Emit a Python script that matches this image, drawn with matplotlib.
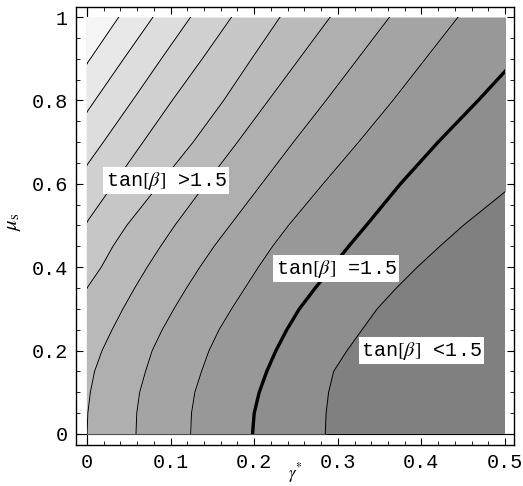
"""
Contour plot of tan(beta) in the (gamma*, mu_s) plane, grey shaded bands
with the tan(beta)=1.5 contour drawn heavy.
"""

import matplotlib.pyplot as plt
from matplotlib.patches import Rectangle

# ─────────────────────────────────────────
# DATA (contour lines: x of each line at Y_LEVELS)
# ─────────────────────────────────────────
Y_LEVELS = [0.0, 0.05, 0.1, 0.15, 0.2, 0.25, 0.3, 0.35, 0.4, 0.45, 0.5, 0.6, 0.7, 0.8, 0.9, 1.0]

LINE_1  = [-0.33, -0.31, -0.29, -0.27, -0.25, -0.23, -0.21, -0.19, -0.17, -0.152, -0.135, -0.10, -0.066, -0.031, 0.004, 0.038]
LINE_2  = [-0.28, -0.26, -0.24, -0.22, -0.20, -0.185, -0.165, -0.148, -0.13, -0.112, -0.095, -0.06, -0.025, 0.0095, 0.044, 0.079]
LINE_3  = [-0.245, -0.225, -0.205, -0.185, -0.165, -0.145, -0.125, -0.106, -0.088, -0.07, -0.052, -0.016, 0.0195, 0.0545, 0.089, 0.124]
LINE_4  = [-0.20, -0.178, -0.158, -0.138, -0.118, -0.098, -0.078, -0.059, -0.04, -0.021, -0.003, 0.032, 0.067, 0.102, 0.138, 0.173]
LINE_5  = [-0.12, -0.105, -0.088, -0.07, -0.053, -0.035, -0.017, 0.0, 0.017, 0.031, 0.0475, 0.087, 0.127, 0.1635, 0.197, 0.231]
LINE_6  = [0.0, 0.001, 0.004, 0.009, 0.018, 0.030, 0.043, 0.057, 0.072, 0.088, 0.105, 0.142, 0.180, 0.217, 0.254, 0.291]
LINE_7  = [0.0586, 0.0595, 0.063, 0.070, 0.078, 0.090, 0.104, 0.119, 0.135, 0.152, 0.171, 0.209, 0.247, 0.286, 0.324, 0.362]
LINE_8  = [0.124, 0.125, 0.129, 0.137, 0.146, 0.158, 0.173, 0.189, 0.205, 0.222, 0.241, 0.2825, 0.325, 0.366, 0.405, 0.444]
LINE_15 = [0.198, 0.200, 0.206, 0.215, 0.226, 0.239, 0.254, 0.273, 0.293, 0.313, 0.334, 0.375, 0.420, 0.468, 0.514, 0.56]
LINE_10 = [0.285, 0.286, 0.289, 0.295, 0.311, 0.329, 0.347, 0.370, 0.395, 0.422, 0.450, 0.512, 0.575, 0.64, 0.70, 0.76]

CONTOURS = [LINE_1, LINE_2, LINE_3, LINE_4, LINE_5, LINE_6, LINE_7, LINE_8, LINE_15, LINE_10]
HEAVY = 8  # index of the tan(beta)=1.5 line

X_TICKS = [0, 0.1, 0.2, 0.3, 0.4, 0.5]
X_TICKLABELS = ['0', '0.1', '0.2', '0.3', '0.4', '0.5']
Y_TICKS = [0, 0.2, 0.4, 0.6, 0.8, 1.0]
Y_TICKLABELS = ['0', '0.2', '0.4', '0.6', '0.8', '1']

LABELS = [r'tan$[\beta]$ >1.5', r'tan$[\beta]$ =1.5', r'tan$[\beta]$ <1.5']
LABEL_X = [0.0945, 0.298, 0.40]
LABEL_Y = [0.607, 0.396, 0.200]

# ── styling
GREYS = ['#f5f5f5', '#e8e8e8', '#dddddd', '#d0d0d0', '#c6c6c6', '#bababa',
         '#afafaf', '#a4a4a4', '#989898', '#8e8e8e', '#808080']
MONO = 'Liberation Mono'
plt.rcParams['mathtext.fontset'] = 'stix'

# ─────────────────────────────────────────
# PLOT
# ─────────────────────────────────────────
fig = plt.figure(figsize=(5.23, 4.86), dpi=100)
ax = fig.add_axes([0.1453, 0.0844, 0.8375, 0.9012])

ax.set_xlim(-0.0132, 0.5108)
ax.set_ylim(-0.0264, 1.024)

# axes through the origin, only visible in the white margin
ax.axhline(0, color='black', lw=0.8, zorder=0)
ax.axvline(0, color='black', lw=0.8, zorder=0)

clip = Rectangle((0, 0), 0.5, 1.0, transform=ax.transData)

bounds = [[-1.0] * len(Y_LEVELS)] + CONTOURS + [[2.0] * len(Y_LEVELS)]
for k in range(len(bounds) - 1):
    band = ax.fill_betweenx(Y_LEVELS, bounds[k], bounds[k + 1],
                            color=GREYS[k], lw=0, zorder=1)
    band.set_clip_path(clip)

for k, xs in enumerate(CONTOURS):
    line, = ax.plot(xs, Y_LEVELS, color='black',
                    lw=2.4 if k == HEAVY else 0.7, zorder=2)
    line.set_clip_path(clip)

for txt, lx, ly in zip(LABELS, LABEL_X, LABEL_Y):
    ax.text(lx, ly, txt, fontsize=14.5, family=MONO, ha='center', va='center',
            zorder=3,
            bbox=dict(boxstyle='square,pad=0.12', facecolor='white', edgecolor='none'))

# ── ticks, labels
ax.set_xticks(X_TICKS)
ax.set_xticklabels(X_TICKLABELS, family=MONO, fontsize=14.5)
ax.set_yticks(Y_TICKS)
ax.set_yticklabels(Y_TICKLABELS, family=MONO, fontsize=14.5)
ax.set_xticks([i * 0.02 for i in range(26)], minor=True)
ax.set_yticks([i * 0.05 for i in range(21)], minor=True)
ax.tick_params(which='both', direction='in', top=True, right=True, color='black')
ax.tick_params(which='major', length=5, width=0.8, pad=6)
ax.tick_params(which='minor', length=3, width=0.6)

ax.set_xlabel(r'$\gamma^{*}$', fontsize=12, va='top')
ax.xaxis.set_label_coords(0.5, -0.036)
ax.set_ylabel(r'$\mu_{\mathrm{s}}$', fontsize=15)
ax.yaxis.set_label_coords(-0.12, 0.509)

for sp in ax.spines.values():
    sp.set_linewidth(1.0)

plt.savefig('out.png', dpi=100)
plt.close()
print('Saved -> out.png')
